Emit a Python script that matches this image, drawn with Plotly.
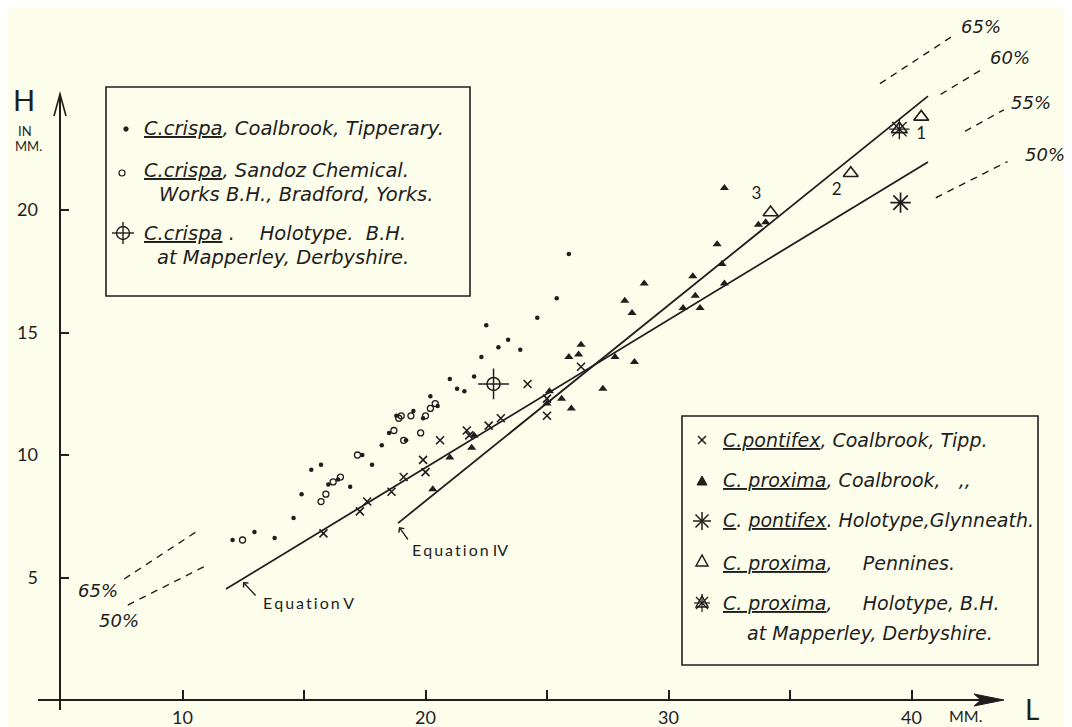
import plotly.graph_objects as go

# ---------------- data (L = length in mm, H = height in mm) ----------------
crispa_coal_L = [12.06, 12.96, 13.79, 14.57, 14.9, 15.3, 15.7, 16.0, 16.4, 16.9, 17.4, 17.8,
                 18.2, 18.5, 18.8, 19.2, 19.5, 19.9, 20.2, 20.5, 21.0, 21.3, 21.6, 22.0,
                 22.3, 22.5, 23.0, 23.4, 23.9, 24.6, 25.4, 25.9]
crispa_coal_H = [6.53, 6.86, 6.61, 7.43, 8.4, 9.4, 9.6, 8.8, 9.0, 8.7, 10.0, 9.6,
                 10.4, 10.9, 11.6, 10.6, 11.8, 11.5, 12.4, 12.0, 13.1, 12.7, 12.6, 13.2,
                 14.0, 15.3, 14.4, 14.7, 14.3, 15.6, 16.4, 18.2]
crispa_sandoz_L = [12.47, 15.7, 15.9, 16.2, 16.5, 17.2, 18.7, 18.9, 19.0, 19.1, 19.4, 19.8, 20.0, 20.2, 20.4]
crispa_sandoz_H = [6.53, 8.1, 8.4, 8.9, 9.1, 10.0, 11.0, 11.5, 11.6, 10.6, 11.6, 10.9, 11.6, 11.9, 12.1]
crispa_holo_L = [22.8]
crispa_holo_H = [12.9]
pontifex_coal_L = [15.8, 17.3, 17.6, 18.6, 19.1, 19.9, 20.0, 20.6, 21.7, 21.8, 22.6, 23.1, 24.2, 25.0, 25.0, 26.4]
pontifex_coal_H = [6.8, 7.7, 8.1, 8.5, 9.1, 9.8, 9.3, 10.6, 11.0, 10.8, 11.2, 11.5, 12.9, 11.6, 12.3, 13.6]
proxima_coal_L = [20.3, 21.0, 21.9, 22.0, 25.0, 25.1, 25.6, 26.0, 25.9, 26.3, 26.4, 27.3, 27.8, 28.2,
                  28.5, 28.6, 29.0, 30.6, 31.0, 31.1, 31.3, 32.0, 32.2, 32.3, 32.3, 33.7, 34.0]
proxima_coal_H = [8.6, 9.9, 10.3, 10.8, 12.1, 12.6, 12.3, 11.9, 14.0, 14.1, 14.5, 12.7, 14.0, 16.3,
                  15.8, 13.8, 17.0, 16.0, 17.3, 16.5, 16.0, 18.6, 17.8, 17.0, 20.9, 19.4, 19.5]
pontifex_holo_L = [39.55]
pontifex_holo_H = [20.3]
proxima_penn_L = [40.4, 37.5, 34.2]
proxima_penn_H = [23.8, 21.5, 19.9]
proxima_penn_lbl = ["1", "2", "3"]
proxima_holo_L = [39.5]
proxima_holo_H = [23.3]

eqV_L = [11.79, 40.68]
eqV_H = [4.53, 21.96]
eqIV_L = [18.87, 40.68]
eqIV_H = [7.22, 24.65]

ratio_pct = [65, 60, 55, 50]
ratio_right_L0 = [38.7, 41.2, 42.2, 41.0]
ratio_right_L1 = [41.8, 42.9, 43.8, 43.95]
ratio_left_pct = [65, 50]
ratio_left_L0 = [7.6, 7.75]
ratio_left_L1 = [10.7, 11.05]

x_ticks = [10, 15, 20, 25, 30, 35, 40]
x_ticktext = ["10", "", "20", "", "30", "", "40"]
y_ticks = [5, 10, 15, 20]
y_ticktext = ["5", "10", "15", "20"]

# ---------------- styling / layout helpers ----------------
INK = "#1e1e1e"
BG = "#fdfdec"
W, H = 1072, 727
ML, MB = 53, 35
SX, SY = 24.3, 24.5


def L_of(px):
    return 5 + (px - ML) / SX


def H_of(py):
    return (H - MB - py) / SY


def PX(px):
    return (px - ML) / (W - ML)


def PY(py):
    return (H - MB - py) / (H - MB)


ITAL_TL = dict(family="DejaVu Sans", size=19.5, color=INK, style="italic")
ITAL_BR = dict(family="DejaVu Sans", size=19, color=INK, style="italic")
UPR = dict(family="Lato", size=18, color=INK)

fig = go.Figure()

# ratio (dashed) lines H = p * L
for p, a, b in zip(ratio_pct, ratio_right_L0, ratio_right_L1):
    fig.add_trace(go.Scatter(x=[a, b], y=[p / 100 * a, p / 100 * b], mode="lines",
                             line=dict(color=INK, width=1.4, dash="7px,6px"), hoverinfo="skip"))
for p, a, b in zip(ratio_left_pct, ratio_left_L0, ratio_left_L1):
    fig.add_trace(go.Scatter(x=[a, b], y=[p / 100 * a, p / 100 * b], mode="lines",
                             line=dict(color=INK, width=1.4, dash="7px,6px"), hoverinfo="skip"))

# regression lines
fig.add_trace(go.Scatter(x=eqV_L, y=eqV_H, mode="lines", line=dict(color=INK, width=1.8), name="Equation V"))
fig.add_trace(go.Scatter(x=eqIV_L, y=eqIV_H, mode="lines", line=dict(color=INK, width=1.8), name="Equation IV"))

# points
fig.add_trace(go.Scatter(x=crispa_coal_L, y=crispa_coal_H, mode="markers",
                         marker=dict(symbol="circle", size=4.5, color=INK), name="C. crispa, Coalbrook"))
fig.add_trace(go.Scatter(x=crispa_sandoz_L, y=crispa_sandoz_H, mode="markers",
                         marker=dict(symbol="circle-open", size=6, color=INK, line=dict(width=1.3)),
                         name="C. crispa, Sandoz"))
fig.add_trace(go.Scatter(x=crispa_holo_L, y=crispa_holo_H, mode="markers",
                         marker=dict(symbol="circle-open", size=13, color=INK, line=dict(width=1.5)),
                         name="C. crispa holotype"))
fig.add_trace(go.Scatter(x=crispa_holo_L, y=crispa_holo_H, mode="markers",
                         marker=dict(symbol="cross-thin-open", size=22, color=INK, line=dict(width=1.5)),
                         showlegend=False, hoverinfo="skip"))
fig.add_trace(go.Scatter(x=pontifex_coal_L, y=pontifex_coal_H, mode="markers",
                         marker=dict(symbol="x-thin-open", size=8, color=INK, line=dict(width=1.6)),
                         name="C. pontifex, Coalbrook"))
fig.add_trace(go.Scatter(x=proxima_coal_L, y=proxima_coal_H, mode="markers",
                         marker=dict(symbol="triangle-up", size=8, color=INK),
                         name="C. proxima, Coalbrook"))
fig.add_trace(go.Scatter(x=pontifex_holo_L, y=pontifex_holo_H, mode="markers",
                         marker=dict(symbol="asterisk-open", size=17, color=INK, line=dict(width=1.7)),
                         name="C. pontifex holotype"))
fig.add_trace(go.Scatter(x=proxima_penn_L, y=proxima_penn_H, mode="markers+text",
                         text=proxima_penn_lbl, textposition=["bottom center", "bottom left", "top left"],
                         textfont=dict(family="Lato", size=17, color=INK),
                         marker=dict(symbol="triangle-up-open", size=13, color=INK, line=dict(width=1.6)),
                         name="C. proxima, Pennines"))
fig.add_trace(go.Scatter(x=proxima_holo_L, y=proxima_holo_H, mode="markers",
                         marker=dict(symbol="triangle-up-open", size=14, color=INK, line=dict(width=1.6)),
                         name="C. proxima holotype"))
fig.add_trace(go.Scatter(x=proxima_holo_L, y=proxima_holo_H, mode="markers",
                         marker=dict(symbol="asterisk-open", size=17, color=INK, line=dict(width=1.4)),
                         showlegend=False, hoverinfo="skip"))

fig.update_traces(cliponaxis=False)

shapes = []
annots = []


def ppath(points, close=False):
    s = "M " + " L ".join(f"{PX(a):.5f},{PY(b):.5f}" for a, b in points)
    return s + (" Z" if close else "")


def pshape(points, width=1.5, close=False, fill=None):
    d = dict(type="path", xref="paper", yref="paper", path=ppath(points, close),
             line=dict(color=INK, width=width))
    if fill:
        d["fillcolor"] = fill
    shapes.append(d)


def circ(cx, cy, r, width=1.3, fill=None):
    d = dict(type="circle", xref="paper", yref="paper", x0=PX(cx - r), x1=PX(cx + r),
             y0=PY(cy + r), y1=PY(cy - r), line=dict(color=INK, width=width))
    if fill:
        d["fillcolor"] = fill
    shapes.append(d)


# axes with arrows
pshape([(30, 692), (985, 692)], width=2)
pshape([(996, 692), (966, 686), (973, 692), (966, 698)], width=1, close=True, fill=INK)
pshape([(52, 702), (52, 86)], width=2)
pshape([(46, 108), (52, 86), (58, 108)], width=1.6)

# legend boxes
shapes.append(dict(type="rect", xref="paper", yref="paper", x0=PX(98), x1=PX(462), y0=PY(288), y1=PY(79),
                   line=dict(color=INK, width=1.6)))
shapes.append(dict(type="rect", xref="paper", yref="paper", x0=PX(674), x1=PX(1030), y0=PY(657), y1=PY(408),
                   line=dict(color=INK, width=1.6)))

# legend keys (drawn)
circ(118, 121, 2.2, width=1, fill=INK)
circ(114, 165, 3.0, width=1.2)
circ(115, 225, 6.5, width=1.4)
pshape([(104, 225), (126, 225)], width=1.4)
pshape([(115, 214), (115, 236)], width=1.4)

kx = 694
pshape([(kx - 4, 428), (kx + 4, 436)], width=1.5)
pshape([(kx - 4, 436), (kx + 4, 428)], width=1.5)
pshape([(kx - 5, 477), (kx, 468), (kx + 5, 477)], width=1, close=True, fill=INK)
for dxp, dyp in [(0, 9), (9, 0), (6.5, 6.5), (6.5, -6.5)]:
    pshape([(kx - dxp, 513 - dyp), (kx + dxp, 513 + dyp)], width=1.5)
pshape([(kx - 6, 558), (kx, 547), (kx + 6, 558)], width=1.5, close=True)
pshape([(kx - 6, 599), (kx, 588), (kx + 6, 599)], width=1.5, close=True)
for dxp, dyp in [(0, 9), (8, 0), (6, 6), (6, -6)]:
    pshape([(kx - dxp, 595 - dyp), (kx + dxp, 595 + dyp)], width=1.2)


def txt(px, py, s, font, anchor="left"):
    annots.append(dict(x=PX(px), y=PY(py), xref="paper", yref="paper", text=s, showarrow=False,
                       xanchor=anchor, yanchor="middle", font=font))


NB = "\u00a0"
TS = "\u2009"
# top-left legend
txt(134, 120, "<u>C.crispa</u>, Coalbrook, Tipperary.", ITAL_TL)
txt(134, 162, "<u>C.crispa</u>, Sandoz Chemical.", ITAL_TL)
txt(149, 187, "Works B.H., Bradford, Yorks.", ITAL_TL)
txt(134, 225, "<u>C.crispa</u> ." + NB * 4 + "Holotype." + NB * 2 + "B.H.", ITAL_TL)
txt(147, 250, "at Mapperley, Derbyshire.", ITAL_TL)

# bottom-right legend
txt(713, 432, "<u>C.pontifex</u>, Coalbrook, Tipp.", ITAL_BR)
txt(713, 472, "<u>C. proxima</u>, Coalbrook," + NB * 3 + ",,", ITAL_BR)
txt(713, 512, "<u>C</u>. <u>pontifex</u>. Holotype,Glynneath.", ITAL_BR)
txt(713, 555, "<u>C. proxima</u>," + NB * 5 + "Pennines.", ITAL_BR)
txt(713, 595, "<u>C. proxima</u>," + NB * 5 + "Holotype, B.H.", ITAL_BR)
txt(737, 625, "at Mapperley, Derbyshire.", ITAL_BR)

# percentage labels
PCT = dict(family="DejaVu Sans", size=18, color=INK, style="italic")
txt(973, 18, "65%", PCT, anchor="center")
txt(1002, 50, "60%", PCT, anchor="center")
txt(1023, 95, "55%", PCT, anchor="center")
txt(1037, 146, "50%", PCT, anchor="center")
txt(90, 582, "65%", PCT, anchor="center")
txt(111, 612, "50%", PCT, anchor="center")

# axis titles
txt(16, 92, "H", dict(family="Lato", size=29, color=INK), anchor="center")
txt(17, 123, "IN", dict(family="Lato", size=13, color=INK), anchor="center")
txt(20, 138, "MM.", dict(family="Lato", size=13, color=INK), anchor="center")
txt(958, 707, "MM.", dict(family="Lato", size=16, color=INK), anchor="center")
txt(1024, 701, "L", dict(family="Lato", size=28, color=INK), anchor="center")

# equation labels with small arrows
EQ = dict(family="Lato", size=16, color=INK)
txt(253, 594, TS.join("Equation") + NB + "V", EQ)
txt(402, 541, TS.join("Equation") + NB + "IV", EQ)
for tip, tail in [((235, 574), (249, 589)), ((391, 519), (401, 533))]:
    annots.append(dict(x=PX(tip[0]), y=PY(tip[1]), xref="paper", yref="paper", text="",
                       showarrow=True, ax=tail[0] - tip[0], ay=tail[1] - tip[1],
                       arrowhead=4, arrowsize=1, arrowwidth=1.3, arrowcolor=INK))

fig.update_layout(
    width=W, height=H,
    margin=dict(l=ML, r=0, t=0, b=MB, pad=0),
    paper_bgcolor=BG, plot_bgcolor=BG,
    showlegend=False,
    shapes=shapes, annotations=annots,
    xaxis=dict(range=[5, L_of(W)], tickvals=x_ticks, ticktext=x_ticktext, ticks="inside",
               ticklen=10, tickwidth=1.5, tickcolor=INK, showline=False, showgrid=False,
               zeroline=False, tickfont=UPR, ticklabelstandoff=5, fixedrange=True),
    yaxis=dict(range=[0, H_of(0)], tickvals=y_ticks, ticktext=y_ticktext, ticks="inside",
               ticklen=8, tickwidth=1.5, tickcolor=INK, showline=False, showgrid=False,
               zeroline=False, tickfont=UPR, ticklabelstandoff=22, fixedrange=True),
)

fig.write_html("out.html")
